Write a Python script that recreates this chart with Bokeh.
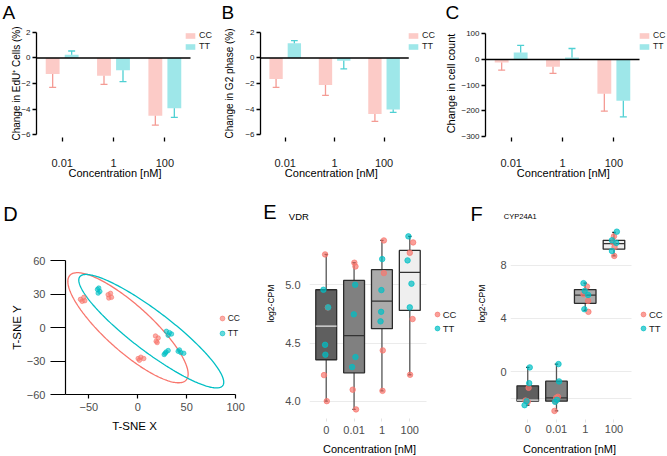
import numpy as np
from bokeh.plotting import figure
from bokeh.models import Range1d, FixedTicker, Label, Legend, LegendItem, Title
from bokeh.layouts import row, column
from bokeh.embed import file_html
from bokeh.resources import INLINE

FONT = "Liberation Sans"

# ---------------- data ----------------
CONC_BAR = ["0.01", "1", "100"]
EDU_CC = [-1.25, -1.39, -4.53]
EDU_CC_ERR = [1.05, 0.68, 0.73]
EDU_TT = [0.26, -0.97, -3.95]
EDU_TT_ERR = [0.29, 0.89, 0.71]

G2_CC = [-1.65, -2.12, -4.40]
G2_CC_ERR = [0.65, 0.81, 0.57]
G2_TT = [1.15, -0.21, -4.03]
G2_TT_ERR = [0.21, 0.65, 0.23]

COUNT_CC = [-11.7, -28.6, -133.8]
COUNT_CC_ERR = [29.9, 25.9, 67.5]
COUNT_TT = [27.3, 7.8, -161.0]
COUNT_TT_ERR = [27.2, 35.0, 62.4]

TSNE_CC_X = [-58.6, -55.2, -54.2, -56.9, -30.3, -27.9, -29.6, -26.9,
             0.4, 3.1, 6.1, 1.7, 18.1, 20.9, 18.8, 19.8]
TSNE_CC_Y = [25.2, 27.0, 24.0, 23.4, 29.4, 30.6, 26.4, 27.0,
             -27.8, -26.6, -27.8, -29.3, -7.6, -9.4, -12.3, -13.5]
TSNE_TT_X = [-41.2, -38.8, -40.5, -39.9, 29.3, 32.4, 34.5, 31.1,
             27.0, 29.0, 31.1, 28.0, 41.3, 44.0, 47.0, 42.6]
TSNE_TT_Y = [34.1, 32.3, 30.8, 35.3, -3.4, -4.6, -5.8, -7.0,
             -24.2, -21.9, -20.6, -23.1, -21.3, -22.4, -23.1, -20.1]
# ellipse summaries: centre x, centre y, x half-extent, y half-extent, correlation
ELL_CC = [-10.0, -0.2, 61.5, 49.3, -0.84]
ELL_TT = [13.8, -3.3, 74.1, 50.8, -0.90]

CONC_BOX = ["0", "0.01", "1", "100"]
VDR_Q1 = [4.357, 4.245, 4.623, 4.780]
VDR_MED = [4.645, 4.563, 4.860, 5.106]
VDR_Q3 = [4.957, 5.037, 5.129, 5.294]
VDR_LO = [4.002, 3.931, 4.090, 4.228]
VDR_HI = [5.260, 5.189, 5.380, 5.415]
VDR_CC = [[5.26, 4.805, 4.225, 4.002], [5.189, 5.157, 4.10, 3.931],
          [5.38, 5.10, 4.437, 4.09], [5.363, 5.274, 4.706, 4.228]]
VDR_TT = [[4.957, 4.806, 4.485, 4.40], [5.0, 4.746, 4.38, 4.294],
          [5.22, 4.954, 4.768, 4.686], [5.415, 5.209, 5.009, 4.806]]
VDR_CC_JIT = [[-0.04, 0.06, -0.08, 0.02], [0.01, 0.05, -0.05, 0.07],
              [0.07, 0.07, 0.03, 0.02], [0.12, 0.0, 0.10, 0.01]]
VDR_TT_JIT = [[-0.10, 0.07, -0.04, -0.03], [0.04, -0.01, 0.05, -0.07],
              [0.01, -0.02, -0.03, -0.05], [-0.05, -0.08, 0.06, 0.0]]

CYP_Q1 = [-2.20, -2.20, 5.13, 9.19]
CYP_MED = [-2.12, -1.95, 5.74, 9.60]
CYP_Q3 = [-1.05, -0.70, 6.16, 9.85]
CYP_LO = [-2.50, -2.93, 4.60, 8.68]
CYP_HI = [0.33, 0.58, 6.64, 10.45]
CYP_CC = [[-1.2, -2.15, -2.2, -2.25], [-1.87, -1.95, -2.2, -2.93],
          [6.39, 5.81, 5.31, 4.49], [10.15, 9.7, 9.35, 8.68]]
CYP_TT = [[0.33, -0.85, -2.2, -2.5], [0.58, -0.72, -2.25, -2.1],
          [6.64, 6.06, 5.76, 4.69], [10.5, 9.85, 9.65, 9.05]]
CYP_CC_JIT = [[0.03, -0.08, -0.02, 0.0], [0.05, -0.01, -0.03, -0.07],
              [0.06, -0.06, 0.10, 0.11], [0.0, -0.03, 0.02, 0.01]]
CYP_TT_JIT = [[0.07, 0.05, -0.04, -0.11], [0.07, 0.09, -0.05, 0.02],
              [-0.06, -0.02, 0.10, -0.03], [0.10, -0.07, 0.08, -0.07]]

# ---------------- styles ----------------
CC_COL, TT_COL = "#F8766D", "#00BFC4"
CC_ERR, TT_ERR = "#f49b94", "#4fd0d3"
BOX_FILL = ["#5f5f5f", "#808080", "#ababab", "#efefef"]
BOX_MED = ["#e8e8e8", "#333333", "#333333", "#333333"]
ROW1_H, ROW2_H = 190, 266


def base_fig(w, h, xr, yr, l, r, t, b):
    p = figure(width=w, height=h, x_range=Range1d(*xr), y_range=Range1d(*yr), title=None,
               output_backend="svg", toolbar_location=None,
               min_border_left=l, min_border_right=r, min_border_top=t, min_border_bottom=b)
    if "frame_align" in p.properties():
        p.frame_align = False
    p.outline_line_color = None
    p.background_fill_color = "white"
    p.border_fill_color = "white"
    for ax in (p.xaxis[0], p.yaxis[0]):
        ax.major_label_text_font = FONT
        ax.axis_label_text_font = FONT
        ax.axis_label_text_font_style = "normal"
        ax.axis_label_text_color = "black"
        ax.minor_tick_line_color = None
        ax.minor_tick_out = 0
        ax.minor_tick_in = 0
        ax.major_tick_in = 0
    return p


def side_text(p, side, txt, x, y, size, align="left"):
    p.add_layout(Label(x=x, y=y, x_units="canvas", y_units="canvas", text=txt,
                       text_font=FONT, text_font_size=size, text_align=align,
                       text_baseline="middle", text_color="black"), side)


def bar_panel(letter, letter_x, ylabel, ylabel_size, ylabel_standoff, cc, cc_err, tt, tt_err,
              yticks, yrange, width, left, legend_x, title_x, legend_font):
    unit = 154.0 / len(CONC_BAR)          # pixels per category
    frame_w = width - left
    p = base_fig(width, ROW1_H, (0, frame_w / unit), yrange, left, 0, 29, ROW1_H - 137)
    p.grid.visible = False
    xc = np.arange(len(CONC_BAR)) + 0.5
    rends = []
    for vals, errs, off, col, line in ((cc, cc_err, -0.185, CC_COL, CC_ERR),
                                       (tt, tt_err, 0.185, TT_COL, TT_ERR)):
        v = np.array(vals, dtype=float)
        e = np.array(errs, dtype=float)
        x = xc + off
        end = v + np.sign(v) * e
        p.segment(x0=x, x1=x, y0=v, y1=end, line_color=line, line_width=1.3)
        p.segment(x0=x - 0.068, x1=x + 0.068, y0=end, y1=end, line_color=line, line_width=1.3)
        rends.append(p.vbar(x=x, top=v, bottom=0, width=0.27, fill_color=col, fill_alpha=0.38,
                            line_color=None))
    p.line(x=[0, len(CONC_BAR)], y=[0, 0], line_color="black", line_width=1.5)

    yax = p.yaxis[0]
    yax.ticker = FixedTicker(ticks=yticks)
    yax.bounds = (yticks[0], yticks[-1])
    yax.axis_line_color = "black"
    yax.axis_line_width = 1.3
    yax.major_tick_line_color = "black"
    yax.major_tick_line_width = 1.3
    yax.major_tick_out = 4
    yax.major_label_text_font_size = "8px"
    yax.major_label_text_color = "#1a1a1a"
    yax.major_label_standoff = 2
    yax.axis_label = ylabel
    yax.axis_label_text_font_size = ylabel_size
    yax.axis_label_standoff = ylabel_standoff

    xax = p.xaxis[0]
    xax.ticker = FixedTicker(ticks=list(xc))
    xax.major_label_overrides = {float(x): c for x, c in zip(xc, CONC_BAR)}
    xax.axis_line_color = None
    xax.major_tick_line_color = "black"
    xax.major_tick_line_width = 1.3
    xax.major_tick_out = 4
    xax.major_label_text_font_size = "11px"
    xax.major_label_text_color = "#1a1a1a"
    xax.major_label_standoff = 17

    leg = Legend(items=[LegendItem(label="CC", renderers=[rends[0]]),
                        LegendItem(label="TT", renderers=[rends[1]])],
                 location=(legend_x, 86), glyph_width=12, glyph_height=7, label_height=10,
                 label_width=5, spacing=1, padding=0, margin=0, label_standoff=3,
                 border_line_color=None, background_fill_alpha=0,
                 label_text_font=FONT, label_text_font_size=legend_font, label_text_color="#1a1a1a")
    p.add_layout(leg)
    side_text(p, "above", letter, letter_x, 11.7, "19px")
    side_text(p, "below", "Concentration [nM]", title_x, 172.5, "11px", align="center")
    return p


pA = bar_panel("A", 2, "Change in EdU\u207a Cells (%)", "10px", -4, EDU_CC, EDU_CC_ERR, EDU_TT, EDU_TT_ERR,
               [-6, -4, -2, 0, 2], (-6.235, 2.235), 221, 36, 148, 114.5, "9px")
pB = bar_panel("B", 0, "Change in G2 phase (%)", "10px", 7, G2_CC, G2_CC_ERR, G2_TT, G2_TT_ERR,
               [-6, -4, -2, 0, 2], (-6.235, 2.235), 220, 32, 147, 109.8, "9px")
pC = bar_panel("C", 4, "Change in cell count", "11px", 1, COUNT_CC, COUNT_CC_ERR, COUNT_TT, COUNT_TT_ERR,
               [-300, -200, -100, 0, 100], (-303.9, 116.7), 226, 44, 153, 121.8, "8.5px")

# ---------------- D: t-SNE ----------------
R2 = ROW1_H   # top of the second row in page pixels
pD = base_fig(252, ROW2_H, (-73.9, 117.3), (-60, 60), 65, 0, 260 - R2, 62)
pD.grid.visible = False


def ellipse_xy(par, n=240):
    cx, cy, rx, ry, rho = par
    t = np.linspace(0, 2 * np.pi, n)
    return cx + rx * np.cos(t), cy + ry * np.cos(t + np.arccos(rho))


ex, ey = ellipse_xy(ELL_CC)
pD.line(ex, ey, line_color=CC_COL, line_width=1.3)
ex, ey = ellipse_xy(ELL_TT)
pD.line(ex, ey, line_color=TT_COL, line_width=1.3)
d_cc = pD.scatter(TSNE_CC_X, TSNE_CC_Y, size=4.5, color=CC_COL, alpha=0.6)
d_tt = pD.scatter(TSNE_TT_X, TSNE_TT_Y, size=4.5, color=TT_COL, alpha=0.6)

for ax in (pD.xaxis[0], pD.yaxis[0]):
    ax.axis_line_color = "black"
    ax.axis_line_width = 1.2
    ax.major_tick_line_color = "black"
    ax.major_tick_line_width = 1.2
    ax.major_label_text_font_size = "11px"
    ax.major_label_text_color = "#4d4d4d"
    ax.axis_label_text_font_size = "11.5px"
yD = pD.yaxis[0]
yD.ticker = FixedTicker(ticks=[-60, -30, 0, 30, 60])
yD.major_label_overrides = {-60: "\u221260", -30: "\u221230", 0: "0", 30: "30", 60: "60"}
yD.major_tick_out = 15
yD.major_label_standoff = 5
yD.axis_label = "T-SNE Y"
yD.axis_label_standoff = 1
xD = pD.xaxis[0]
xD.ticker = FixedTicker(ticks=[-50, 0, 50, 100])
xD.bounds = (-73.9, 100)
xD.major_label_overrides = {-50: "\u221250", 0: "0", 50: "50", 100: "100"}
xD.major_tick_out = 4
xD.major_label_standoff = 4
side_text(pD, "below", "T-SNE X", 134, 425 - R2, "11.5px", align="center")
side_text(pD, "above", "D", 2.7, 213.7 - R2, "20px")


def dot_legend(rcc, rtt, font_size, location, pitch, spacing):
    return Legend(items=[LegendItem(label="CC", renderers=[rcc]),
                         LegendItem(label="TT", renderers=[rtt])],
                  location=location, glyph_width=12, glyph_height=pitch, label_height=pitch,
                  label_width=5, spacing=spacing, padding=0, margin=0, label_standoff=0,
                  border_line_color=None, background_fill_alpha=0,
                  label_text_font=FONT, label_text_font_size=font_size, label_text_color="#1a1a1a")


pD.add_layout(dot_legend(d_cc, d_tt, "8.5px", (150.7, 54.3), 14, 1))


# ---------------- E / F: box plots ----------------
def box_panel(w, l, t, b, unit, yr, yticks, ylabels, q1, med, q3, lo, hi, cc, tt, ccj, ttj,
              ytick_standoff, xlab_standoff, legend_xy, ytitle_offset, ytitle_standoff, xtitle_x):
    frame_w = w - l
    p = base_fig(w, ROW2_H, (0.4, 0.4 + frame_w / unit), yr, l, 0, t, b)
    p.xgrid.visible = False
    yg = p.ygrid[0]
    yg.ticker = FixedTicker(ticks=yticks)
    yg.grid_line_color = "#ebebeb"
    yg.grid_line_width = 1.1
    if "cross_bounds" in yg.properties():
        yg.cross_bounds = (0.4, 0.4 + len(CONC_BOX) + 0.2)
    cat = np.arange(1, len(CONC_BOX) + 1, dtype=float)
    p.segment(x0=cat, x1=cat, y0=q3, y1=hi, line_color="#555555", line_width=1.3)
    p.segment(x0=cat, x1=cat, y0=q1, y1=lo, line_color="#555555", line_width=1.3)
    p.vbar(x=cat, bottom=q1, top=q3, width=0.75, fill_color=BOX_FILL,
           line_color="#2b2b2b", line_width=1.3)
    p.segment(x0=cat - 0.375, x1=cat + 0.375, y0=med, y1=med, line_color=BOX_MED, line_width=1.3)
    p.segment(x0=cat - 0.06, x1=cat + 0.06, y0=hi, y1=hi, line_color="#222222", line_width=1.3)
    p.segment(x0=cat - 0.06, x1=cat + 0.06, y0=lo, y1=lo, line_color="#222222", line_width=1.3)
    rend = []
    for vals, jit, col in ((cc, ccj, CC_COL), (tt, ttj, TT_COL)):
        xs, ys = [], []
        for i, (vv, jj) in enumerate(zip(vals, jit)):
            xs += [cat[i] + j for j in jj]
            ys += list(vv)
        rend.append(p.scatter(xs, ys, size=5.5, color=col, alpha=0.7))

    yax = p.yaxis[0]
    yax.ticker = FixedTicker(ticks=yticks)
    yax.major_label_overrides = dict(zip(yticks, ylabels))
    yax.axis_line_color = None
    yax.major_tick_line_color = None
    yax.major_tick_out = 0
    yax.major_label_text_font_size = "11px"
    yax.major_label_text_color = "#4d4d4d"
    yax.major_label_standoff = ytick_standoff
    p.add_layout(Title(text="log2-CPM", align="left", offset=ytitle_offset, standoff=ytitle_standoff,
                       text_font=FONT, text_font_size="8.5px", text_font_style="normal",
                       text_color="black"), "left")
    xax = p.xaxis[0]
    xax.ticker = FixedTicker(ticks=list(cat))
    xax.major_label_overrides = {float(c): s for c, s in zip(cat, CONC_BOX)}
    xax.axis_line_color = None
    xax.major_tick_line_color = "#e3e3e3"
    xax.major_tick_line_width = 1
    xax.major_tick_out = 3
    xax.major_label_text_font_size = "11px"
    xax.major_label_text_color = "#4d4d4d"
    xax.major_label_standoff = xlab_standoff
    side_text(p, "below", "Concentration [nM]", xtitle_x, 448 - R2, "11px", align="center")
    p.add_layout(dot_legend(rend[0], rend[1], "9.5px", legend_xy, 14, 0))
    return p


pE = box_panel(211, 57, 227 - R2, 38, 27.86, (3.853, 5.491), [4.0, 4.5, 5.0], ["4.0", "4.5", "5.0"],
               VDR_Q1, VDR_MED, VDR_Q3, VDR_LO, VDR_HI, VDR_CC, VDR_TT, VDR_CC_JIT, VDR_TT_JIT,
               9, 4, (121.7, 82.7), 96, 13, 117)
side_text(pE, "above", "VDR", 36.3, 215.8 - R2, "9.5px")
side_text(pE, "above", "E", 10.7, 211.2 - R2, "20px")

pF = box_panel(204, 44, 223 - R2, 37, 29.29, (-3.573, 11.11), [-2, 0, 4, 8], ["", "0", "4", "8"],
               CYP_Q1, CYP_MED, CYP_Q3, CYP_LO, CYP_HI, CYP_CC, CYP_TT, CYP_CC_JIT, CYP_TT_JIT,
               4, 2, (127, 83.7), 97, 22, 106)
side_text(pF, "above", "CYP24A1", 40.3, 216 - R2, "7.5px")
side_text(pF, "above", "F", 7, 213.4 - R2, "20px")

layout = column(row(column(pA), column(pB), column(pC), spacing=0),
                row(column(pD), column(pE), column(pF), spacing=0), spacing=0)
open("out.html", "w").write(file_html(layout, INLINE))
